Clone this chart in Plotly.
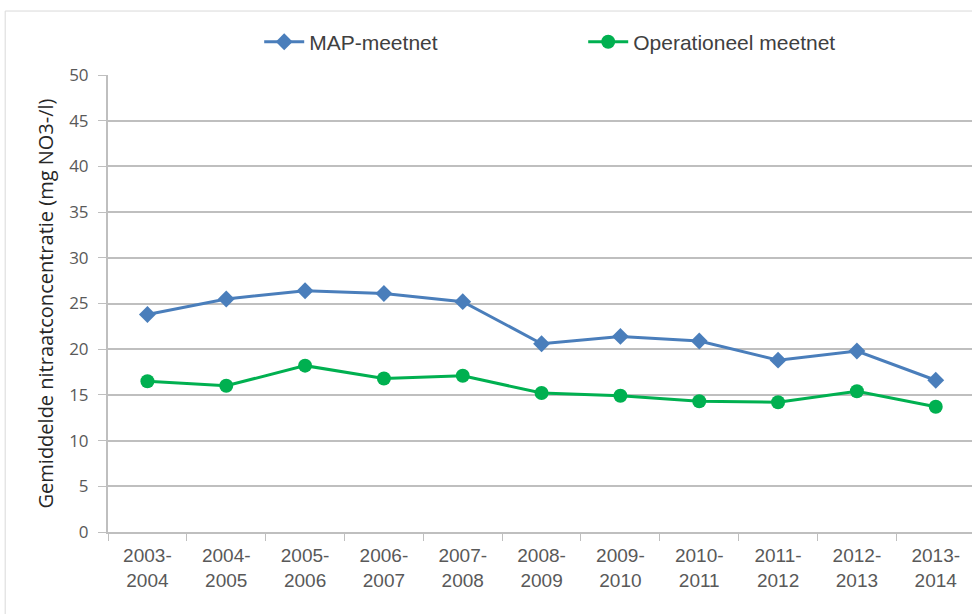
import plotly.graph_objects as go

# Meetjaren (winterseizoenen)
seizoenen = ["2003-<br>2004", "2004-<br>2005", "2005-<br>2006", "2006-<br>2007",
             "2007-<br>2008", "2008-<br>2009", "2009-<br>2010", "2010-<br>2011",
             "2011-<br>2012", "2012-<br>2013", "2013-<br>2014"]

# Gemiddelde nitraatconcentratie (mg NO3-/l)
map_meetnet = [23.8, 25.5, 26.4, 26.1, 25.2, 20.6, 21.4, 20.9, 18.8, 19.8, 16.6]
operationeel_meetnet = [16.5, 16.0, 18.2, 16.8, 17.1, 15.2, 14.9, 14.3, 14.2, 15.4, 13.7]

y_ticks = list(range(0, 55, 5))

BLUE = "#4a7ebb"
GREEN = "#00b050"
GRID = "#bfbfbf"
TEXT = "#595959"
FONT = "Liberation Sans, Arial, sans-serif"

fig = go.Figure()
fig.add_trace(go.Scatter(
    x=seizoenen, y=map_meetnet, name="MAP-meetnet", mode="lines+markers",
    line=dict(color=BLUE, width=3),
    marker=dict(symbol="diamond", size=13, color=BLUE),
))
fig.add_trace(go.Scatter(
    x=seizoenen, y=operationeel_meetnet, name="Operationeel meetnet", mode="lines+markers",
    line=dict(color=GREEN, width=3),
    marker=dict(symbol="circle", size=14, color=GREEN),
))

# Lichte kader rond de grafiek
fig.add_shape(type="rect", xref="paper", yref="paper",
              x0=-0.119, x1=1.2, y0=-0.3, y1=1.14,
              line=dict(color="#d9d9d9", width=1), layer="below")

fig.update_layout(
    width=972, height=614,
    margin=dict(l=108, r=0, t=75, b=82),
    paper_bgcolor="white", plot_bgcolor="white",
    font=dict(family=FONT, size=15, color=TEXT),
    showlegend=True,
    legend=dict(orientation="h", x=0.175, xanchor="left", y=1.072, yanchor="middle",
                font=dict(family=FONT, size=21, color="#404040"),
                itemwidth=40, entrywidth=269, traceorder="normal"),
    xaxis=dict(
        range=[-0.5, 10.46], showgrid=False,
        showline=True, linecolor=GRID, linewidth=2,
        ticks="outside", tickson="boundaries", ticklen=7, tickcolor=GRID, tickwidth=1,
        ticklabelstandoff=5,
        tickfont=dict(family=FONT, size=19, color=TEXT),
    ),
    yaxis=dict(
        range=[0, 50], tickvals=y_ticks, showgrid=True, gridcolor=GRID, gridwidth=2,
        showline=True, linecolor=GRID, linewidth=2, zeroline=False,
        ticks="outside", ticklen=8, tickcolor=GRID, tickwidth=1, ticklabelstandoff=6,
        tickfont=dict(family="Open Sans, sans-serif", size=17, color=TEXT),
        title=dict(text="Gemiddelde nitraatconcentratie (mg NO3-/l)",
                   font=dict(family="Open Sans, sans-serif", size=20, color="#262626"),
                   standoff=10),
    ),
)

fig.write_html("out.html")
